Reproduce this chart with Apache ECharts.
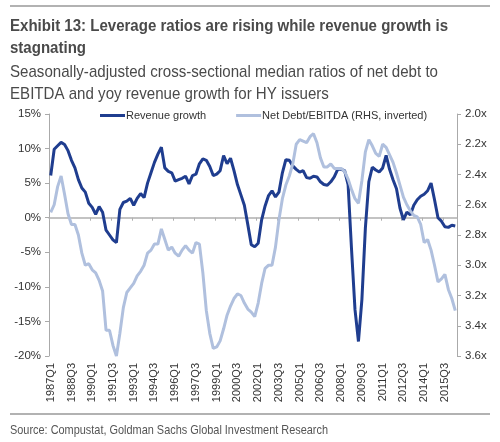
<!DOCTYPE html>
<html>
<head>
<meta charset="utf-8">
<script src="https://cdn.jsdelivr.net/npm/echarts@6/dist/echarts.min.js"></script>
<style>
html,body{margin:0;padding:0;background:#fff;}
#chart{width:500px;height:442px;}
</style>
</head>
<body>
<div id="chart"></div>
<script>
// Quarters 1987Q1 .. 2016Q2
const startYear = 1987;
const quarterCount = 118;
const categories = [];
for (let i = 0; i < quarterCount; i++) {
  categories.push((startYear + Math.floor(i / 4)) + 'Q' + (i % 4 + 1));
}

// Revenue growth, % (left axis)
const revenueGrowth = [
  6.1, 9.9, 10.4, 10.9, 10.6, 9.7, 8.3, 7.2, 5.5, 4.3,
  3.7, 2.1, 1.5, 0.5, 1.6, 0.8, -1.8, -2.5, -3.2, -3.6,
  1.2, 2.2, 2.4, 2.8, 1.8, 2.8, 3.5, 2.9, 5.0, 6.5,
  8.0, 9.2, 10.2, 7.2, 6.7, 6.5, 5.3, 5.5, 5.7, 6.0,
  4.9, 6.1, 6.3, 7.8, 8.5, 8.3, 7.4, 6.1, 6.3, 6.8,
  9.0, 7.8, 8.6, 6.8, 4.8, 3.3, 1.8, -1.0, -3.9, -4.2,
  -3.7, -0.3, 1.7, 3.2, 3.9, 3.0, 3.7, 6.5, 8.4, 8.3,
  7.5, 7.0, 6.6, 6.8, 5.8, 5.7, 6.0, 5.9, 5.2, 4.8,
  4.7, 5.2, 5.9, 7.0, 7.0, 6.8, 4.8, -4.6, -13.3, -17.9,
  -11.8, -1.5, 5.2, 7.3, 6.9, 6.6, 7.2, 9.0, 7.0, 5.5,
  4.2, 1.4, -0.3, 0.8, 0.4, 1.8, 2.6, 3.1, 3.4, 3.9,
  5.0, 2.6, 0.0, -0.5, -1.3, -1.4, -1.1, -1.2
];

// Net Debt / EBITDA, x (right axis, inverted)
const netDebtEbitda = [
  2.65, 2.60, 2.48, 2.41, 2.53, 2.66, 2.73, 2.73, 2.80, 2.92,
  3.00, 2.99, 3.03, 3.05, 3.10, 3.17, 3.43, 3.43, 3.53, 3.60,
  3.45, 3.28, 3.18, 3.15, 3.12, 3.07, 3.04, 3.00, 2.92, 2.90,
  2.86, 2.86, 2.76, 2.83, 2.90, 2.88, 2.92, 2.94, 2.90, 2.87,
  2.90, 2.92, 2.85, 2.86, 3.05, 3.30, 3.45, 3.55, 3.54, 3.50,
  3.42, 3.33, 3.27, 3.22, 3.19, 3.20, 3.25, 3.29, 3.31, 3.34,
  3.25, 3.12, 3.02, 3.00, 3.00, 2.88, 2.70, 2.56, 2.47, 2.41,
  2.33, 2.20, 2.17, 2.18, 2.19, 2.15, 2.13, 2.19, 2.29, 2.35,
  2.35, 2.33, 2.36, 2.36, 2.36, 2.38, 2.43, 2.50, 2.56, 2.59,
  2.44, 2.25, 2.17, 2.21, 2.26, 2.28, 2.20, 2.22, 2.27, 2.32,
  2.39, 2.47, 2.55, 2.60, 2.64, 2.67, 2.68, 2.73, 2.85, 2.83,
  2.90, 3.00, 3.11, 3.09, 3.06, 3.16, 3.22, 3.30
];

const leftTicks = {min: -20, max: 15, interval: 5};
const rightTicks = {min: 2.0, max: 3.6, interval: 0.2};

const titleLines = ['Exhibit 13: Leverage ratios are rising while revenue growth is', 'stagnating'];
const subtitleLines = ['Seasonally-adjusted cross-sectional median ratios of net debt to', 'EBITDA and yoy revenue growth for HY issuers'];
const sourceText = 'Source: Compustat, Goldman Sachs Global Investment Research';
const seriesNames = ['Revenue growth', 'Net Debt/EBITDA (RHS, inverted)'];

const darkBlue = '#1f3d8f';
const lightBlue = '#b0c0de';
const sans = '"Liberation Sans", Arial, sans-serif';
const titleFont = 'bold 16px "Liberation Sans", Arial, sans-serif';
const subFont = '17px "Liberation Sans", Arial, sans-serif';
const srcFont = '13px "Liberation Sans", Arial, sans-serif';

// condensed look: horizontal scale so the first line spans the reference width
const mctx = document.createElement('canvas').getContext('2d');
function squeeze(font, text, target) {
  mctx.font = font;
  return target / mctx.measureText(text).width;
}
const sTitle = squeeze(titleFont, titleLines[0], 438);
const sSub = squeeze(subFont, subtitleLines[0], 428);
const sSrc = squeeze(srcFont, sourceText, 318);

function textEl(text, font, y, s, color) {
  return {
    type: 'text', x: 10, y: y, scaleX: s, originX: 0, originY: 0,
    style: {text: text, font: font, fill: color, verticalAlign: 'middle', align: 'left'}
  };
}

const chart = echarts.init(document.getElementById('chart'), null, {renderer: 'canvas'});
chart.setOption({
  animation: false,
  backgroundColor: '#fff',
  graphic: [
    {type: 'line', shape: {x1: 10, y1: 6, x2: 490, y2: 6}, style: {stroke: '#999', lineWidth: 1.5}},
    {type: 'line', shape: {x1: 10, y1: 414, x2: 490, y2: 414}, style: {stroke: '#999', lineWidth: 1.5}},
    textEl(titleLines[0], titleFont, 27, sTitle, '#4a4a4a'),
    textEl(titleLines[1], titleFont, 49, sTitle, '#4a4a4a'),
    textEl(subtitleLines[0], subFont, 72, sSub, '#4a4a4a'),
    textEl(subtitleLines[1], subFont, 94, sSub, '#4a4a4a'),
    textEl(sourceText, srcFont, 430, sSrc, '#555')
  ],
  legend: {
    left: 100, top: 110, padding: 0,
    itemWidth: 25, itemHeight: 3, itemGap: 30,
    icon: 'rect',
    textStyle: {fontFamily: sans, fontSize: 11, color: '#333', padding: [0, 0, 0, -4]},
    data: seriesNames
  },
  grid: {left: 49, right: 43, top: 114, bottom: 86, containLabel: false},
  xAxis: [
    {
      type: 'category', data: categories, boundaryGap: true, position: 'bottom',
      axisLine: {show: false, onZero: false},
      axisTick: {show: false},
      axisLabel: {interval: 5, rotate: 90, fontFamily: sans, fontSize: 11, color: '#333', margin: 7},
      splitLine: {show: false}
    },
    {
      type: 'category', data: categories, boundaryGap: true, position: 'bottom',
      axisLine: {show: true, onZero: true, onZeroAxisIndex: 0, lineStyle: {color: '#b0b0b0', width: 1.5}},
      axisTick: {show: true, interval: 5, length: 3, inside: false, lineStyle: {color: '#b0b0b0'}},
      axisLabel: {show: false},
      splitLine: {show: false}
    }
  ],
  yAxis: [
    {
      type: 'value', position: 'left',
      min: leftTicks.min, max: leftTicks.max, interval: leftTicks.interval,
      axisLine: {show: true, lineStyle: {color: '#aaa'}},
      axisTick: {show: true, length: 4, lineStyle: {color: '#aaa'}},
      axisLabel: {fontFamily: sans, fontSize: 11.5, color: '#333', margin: 8, formatter: v => v + '%'},
      splitLine: {show: false}
    },
    {
      type: 'value', position: 'right', inverse: true,
      min: rightTicks.min, max: rightTicks.max, interval: rightTicks.interval,
      axisLine: {show: true, lineStyle: {color: '#aaa'}},
      axisTick: {show: true, length: 4, lineStyle: {color: '#aaa'}},
      axisLabel: {fontFamily: sans, fontSize: 11.5, color: '#333', margin: 8, formatter: v => v.toFixed(1) + 'x'},
      splitLine: {show: false}
    }
  ],
  series: [
    {
      name: seriesNames[0], type: 'line', xAxisIndex: 0, yAxisIndex: 0,
      data: revenueGrowth, showSymbol: false, symbol: 'none',
      lineStyle: {color: darkBlue, width: 3}, itemStyle: {color: darkBlue}, z: 3
    },
    {
      name: seriesNames[1], type: 'line', xAxisIndex: 0, yAxisIndex: 1,
      data: netDebtEbitda, showSymbol: false, symbol: 'none',
      lineStyle: {color: lightBlue, width: 3}, itemStyle: {color: lightBlue}, z: 4
    }
  ]
});
</script>
</body>
</html>
